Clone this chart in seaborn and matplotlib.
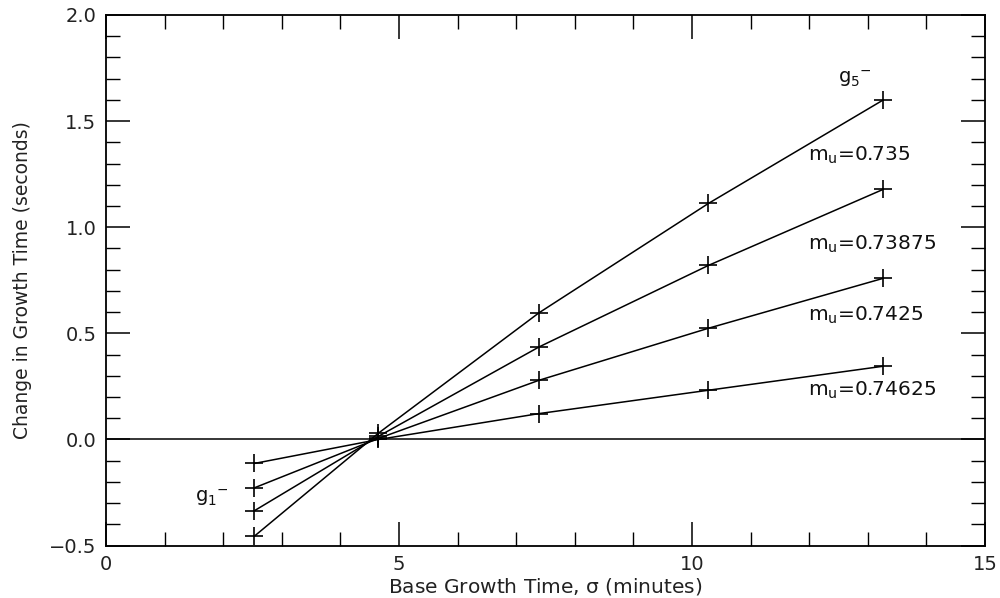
import matplotlib
matplotlib.use("Agg")
import matplotlib.pyplot as plt
from matplotlib.ticker import MultipleLocator
import numpy as np
import pandas as pd
import seaborn as sns

# Base growth times (minutes) at which each curve was evaluated
base_time = [2.53, 4.65, 7.39, 10.28, 13.26]

# Change in growth time (seconds) for each m_u value
series_names = ["0.735", "0.73875", "0.7425", "0.74625"]
dt_0735 = [-0.456, 0.03, 0.597, 1.112, 1.599]
dt_073875 = [-0.336, 0.015, 0.436, 0.820, 1.178]
dt_07425 = [-0.228, 0.005, 0.279, 0.524, 0.759]
dt_074625 = [-0.113, 0.0, 0.122, 0.232, 0.345]

# Curve annotations
label_texts = [r"m$_u$=0.735", r"m$_u$=0.73875", r"m$_u$=0.7425", r"m$_u$=0.74625"]
label_pos = [(11.98, 1.34), (11.98, 0.92), (11.98, 0.586), (11.98, 0.233)]

values = [dt_0735, dt_073875, dt_07425, dt_074625]
df = pd.DataFrame({
    "x": np.tile(base_time, len(series_names)),
    "y": np.concatenate(values),
    "series": np.repeat(series_names, len(base_time)),
})

sns.set_style("ticks")
plt.rcParams["font.family"] = ["DejaVu Sans"]
plt.rcParams["mathtext.default"] = "regular"

fig = plt.figure(figsize=(10, 5.98), dpi=100)
ax = fig.add_axes([0.106, 0.0876, 0.879, 0.8874])

ax.axhline(0.0, color="black", lw=1.1, zorder=1)

sns.lineplot(data=df, x="x", y="y", hue="series", palette=["black"] * 4,
             marker="+", markersize=13, markeredgewidth=1.2,
             markeredgecolor="black", linewidth=1.1, legend=False,
             sort=False, estimator=None, ax=ax)

for txt, (tx, ty) in zip(label_texts, label_pos):
    ax.text(tx, ty, txt, fontsize=14.5, ha="left", va="center", color="#111111")
ax.text(12.5, 1.70, r"g$_5$$^{-}$", fontsize=14, ha="left", va="center", color="#111111")
ax.text(1.52, -0.272, r"g$_1$$^{-}$", fontsize=14, ha="left", va="center", color="#111111")

ax.set_xlim(0, 15)
ax.set_ylim(-0.5, 2.0)
ax.xaxis.set_major_locator(MultipleLocator(5))
ax.xaxis.set_minor_locator(MultipleLocator(1))
ax.yaxis.set_major_locator(MultipleLocator(0.5))
ax.yaxis.set_minor_locator(MultipleLocator(0.1))
ax.set_yticks([-0.5, 0.0, 0.5, 1.0, 1.5, 2.0])
ax.set_yticklabels(["\u22120.5", "0.0", "0.5", "1.0", "1.5", "2.0"])
ax.set_xticks([0, 5, 10, 15])
ax.set_xticklabels(["0", "5", "10", "15"])

ax.tick_params(which="both", direction="in", top=True, right=True,
               color="black", labelsize=14, labelcolor="#222222")
ax.tick_params(which="major", length=17, width=1.1, pad=7)
ax.tick_params(which="minor", length=10, width=1.0)
for s in ax.spines.values():
    s.set_color("black")
    s.set_linewidth(1.3)

ax.set_xlabel(r"Base Growth Time, $\sigma$ (minutes)", fontsize=14.5, color="#222222", labelpad=1)
ax.set_ylabel("Change in Growth Time (seconds)", fontsize=13.5, color="#222222", labelpad=12)

fig.savefig("out.png", dpi=100, facecolor="white")
